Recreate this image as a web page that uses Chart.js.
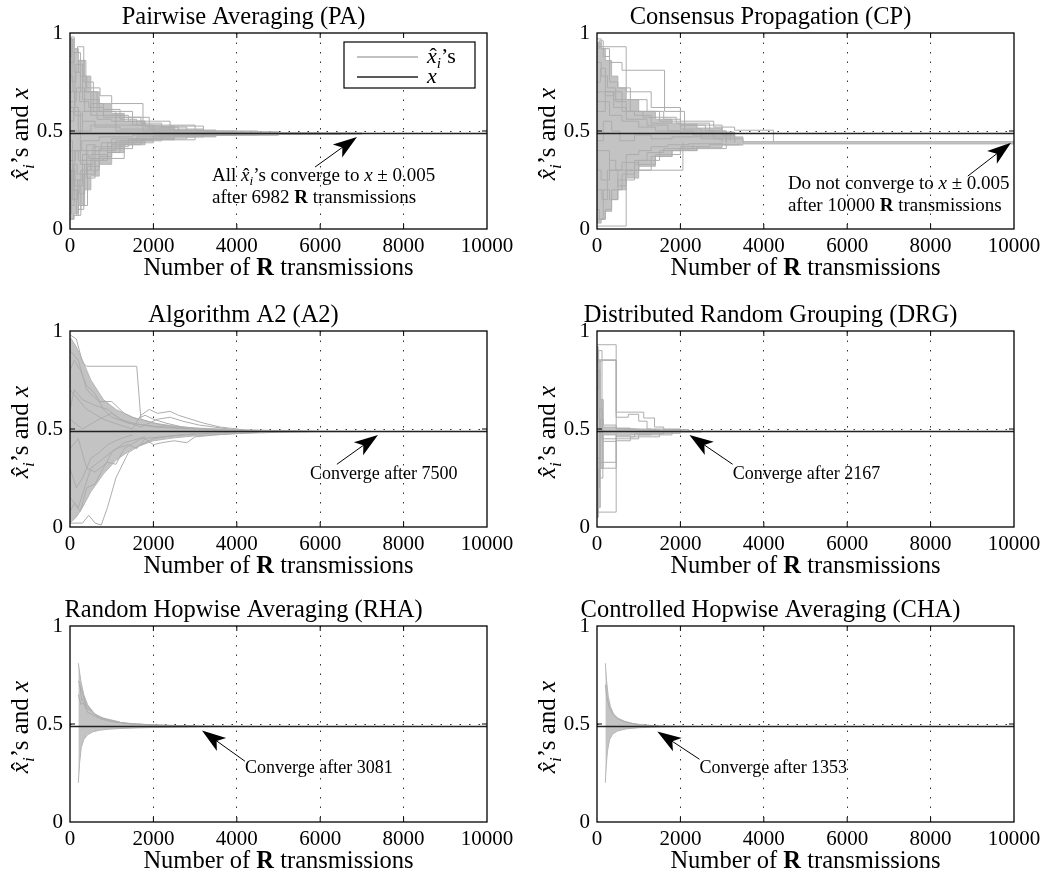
<!DOCTYPE html>
<html>
<head>
<meta charset="utf-8">
<script src="https://cdn.jsdelivr.net/npm/chart.js@4.4.1/dist/chart.umd.min.js"></script>
<style>
body { margin: 0; background: #fff; width: 1052px; height: 873px; overflow: hidden; position: relative; }
.p { position: absolute; width: 526px; height: 290px; }
</style>
</head>
<body>
<div class="p" style="left:0;top:0"><canvas id="pa"></canvas></div>
<div class="p" style="left:527px;top:0"><canvas id="cp"></canvas></div>
<div class="p" style="left:0;top:298px"><canvas id="a2"></canvas></div>
<div class="p" style="left:527px;top:298px"><canvas id="drg"></canvas></div>
<div class="p" style="left:0;top:593px"><canvas id="rha"></canvas></div>
<div class="p" style="left:527px;top:593px"><canvas id="cha"></canvas></div>
<script>
// axes
var xMax = 10000
var xStep = 2000
var yStep = 0.5
var xTrue = 0.487   // the black "x" line

// Pairwise Averaging: dense core (upper / lower edge) and single traces
var paUpper = [[0,0.97],[100,0.92],[200,0.86],[350,0.78],[500,0.7],[700,0.64],[1000,0.59],[1300,0.55],[1800,0.525],[2500,0.505],[3500,0.495],[5000,0.49],[7000,0.487],[10000,0.487]]
var paLower = [[0,0.05],[100,0.08],[200,0.12],[350,0.2],[500,0.27],[700,0.33],[1000,0.39],[1300,0.43],[1800,0.455],[2500,0.47],[3500,0.479],[5000,0.484],[7000,0.487],[10000,0.487]]
var paTraces = [
    [[0,0.97],[60,0.9],[180,0.93],[330,0.75],[560,0.6],[1100,0.53],[2000,0.5],[3500,0.49],[6000,0.487]],
    [[0,0.05],[80,0.07],[200,0.1],[260,0.3],[500,0.38],[900,0.44],[1600,0.47],[3000,0.482],[6500,0.487]],
    [[0,0.85],[100,0.9],[250,0.78],[400,0.72],[720,0.68],[1000,0.64],[1750,0.5],[4000,0.489]],
    [[0,0.3],[90,0.2],[200,0.1],[330,0.28],[600,0.4],[1000,0.46],[2200,0.48],[4500,0.487]],
    [[0,0.62],[120,0.8],[250,0.7],[500,0.58],[1300,0.57],[1900,0.51],[3200,0.49]],
    [[0,0.45],[60,0.15],[180,0.25],[300,0.35],[800,0.36],[1300,0.44],[2000,0.47],[3200,0.48],[5000,0.487]],
    [[0,0.78],[70,0.7],[230,0.65],[450,0.62],[800,0.58],[1400,0.55],[2400,0.525],[3200,0.495],[5000,0.488]],
    [[0,0.2],[150,0.07],[260,0.12],[420,0.32],[700,0.41],[1200,0.45],[2000,0.475],[3500,0.485]],
    [[0,0.92],[50,0.75],[140,0.84],[300,0.66],[700,0.6],[1500,0.53],[3000,0.5],[4500,0.489]],
    [[0,0.12],[100,0.25],[220,0.18],[350,0.33],[550,0.42],[1000,0.43],[1500,0.46],[2500,0.478],[4000,0.486]],
    [[0,0.7],[110,0.58],[300,0.55],[600,0.52],[1200,0.51],[2500,0.505],[3200,0.492]],
    [[0,0.35],[130,0.4],[280,0.45],[700,0.47],[1500,0.48],[4000,0.487]],
    [[0,0.55],[90,0.62],[200,0.5],[500,0.53],[1100,0.5],[2000,0.493],[5000,0.488]],
    [[0,0.08],[40,0.3],[120,0.22],[300,0.38],[450,0.36],[900,0.42],[1400,0.455],[3000,0.48]],
    [[0,0.88],[30,0.98],[100,0.8],[200,0.86],[380,0.7],[650,0.56],[1000,0.55],[1800,0.52],[2600,0.5]],
    [[0,0.25],[80,0.33],[170,0.28],[400,0.4],[750,0.44],[1400,0.46],[2800,0.478]],
    [[0,0.65],[150,0.72],[350,0.6],[800,0.57],[1700,0.54],[2200,0.52],[2800,0.5]],
    [[0,0.4],[200,0.35],[400,0.43],[600,0.4],[1100,0.45],[2000,0.472]],
    [[0,0.5],[300,0.6],[500,0.64],[800,0.61],[1200,0.56],[1600,0.53],[2200,0.515]],
    [[0,0.6],[250,0.33],[500,0.3],[700,0.37],[1000,0.41],[1500,0.45],[2200,0.468]],
    [[0,0.15],[100,0.4],[400,0.26],[600,0.35],[900,0.39],[1200,0.43],[1700,0.462]]
]

// Consensus Propagation
var cpUpper = [[0,0.95],[100,0.92],[200,0.86],[350,0.78],[500,0.72],[700,0.66],[1000,0.6],[1400,0.56],[1800,0.535],[2400,0.515],[3000,0.495],[3300,0.47],[3500,0.446],[10000,0.446]]
var cpLower = [[0,0.03],[100,0.05],[200,0.09],[350,0.15],[500,0.2],[700,0.26],[1000,0.32],[1400,0.37],[1800,0.4],[2400,0.415],[3000,0.428],[3500,0.434],[10000,0.434]]
var cpTraces = [
    [[0,0.97],[100,0.92],[300,0.85],[600,0.81],[1620,0.6],[2100,0.5],[2800,0.48],[3300,0.44]],
    [[0,0.015],[700,0.3],[2060,0.44]],
    [[0,0.93],[700,0.7],[1300,0.62],[2000,0.55],[2800,0.52],[3300,0.504],[4230,0.445]],
    [[0,0.05],[150,0.2],[300,0.15],[500,0.25],[900,0.33],[1400,0.38],[2000,0.42],[2700,0.43],[3400,0.437]],
    [[0,0.85],[100,0.78],[250,0.72],[450,0.65],[700,0.6],[1100,0.57],[1500,0.55],[2000,0.53],[2600,0.5],[3100,0.46],[3500,0.44]],
    [[0,0.6],[200,0.7],[400,0.62],[700,0.56],[1200,0.53],[1700,0.5],[2300,0.48],[2800,0.46],[3100,0.442]],
    [[0,0.3],[100,0.25],[300,0.35],[450,0.3],[700,0.38],[1000,0.4],[1300,0.42],[1700,0.43],[2200,0.435],[3000,0.44]],
    [[0,0.75],[80,0.82],[200,0.68],[400,0.7],[600,0.6],[900,0.58],[1300,0.54],[2000,0.51],[2500,0.49],[3200,0.45]],
    [[0,0.1],[60,0.05],[200,0.1],[350,0.2],[600,0.28],[900,0.35],[1200,0.39],[1600,0.41],[2300,0.43]],
    [[0,0.45],[150,0.55],[350,0.5],[550,0.45],[900,0.48],[1300,0.46],[1800,0.47],[2500,0.46],[3000,0.445]],
    [[0,0.92],[50,0.96],[150,0.88],[300,0.75],[500,0.72],[800,0.66],[1200,0.6],[1600,0.56],[2000,0.53],[3000,0.48],[3300,0.445]],
    [[0,0.2],[120,0.15],[250,0.3],[500,0.22],[700,0.3],[1000,0.35],[1500,0.4],[2000,0.41],[3100,0.437]],
    [[0,0.65],[300,0.58],[600,0.55],[1000,0.52],[1400,0.5],[2000,0.49],[2500,0.47],[3300,0.445]],
    [[0,0.7],[400,0.66],[800,0.6],[1100,0.6],[1500,0.57],[1900,0.54],[2700,0.5],[3100,0.45]],
    [[0,0.4],[300,0.3],[600,0.34],[1000,0.3],[1300,0.37],[1800,0.4],[2400,0.42]]
]

// Algorithm A2 (no steps)
var a2Upper = [[0,0.97],[150,0.92],[300,0.85],[500,0.75],[800,0.65],[1100,0.6],[1500,0.56],[2000,0.53],[2500,0.515],[3000,0.505],[4000,0.497],[5000,0.492],[6000,0.489],[7500,0.487],[10000,0.487]]
var a2Lower = [[0,0.02],[150,0.05],[300,0.1],[500,0.18],[800,0.27],[1100,0.34],[1500,0.4],[2000,0.44],[2500,0.455],[3000,0.465],[4000,0.477],[5000,0.483],[6000,0.486],[7500,0.487],[10000,0.487]]
var a2Traces = [
    [[0,0.98],[150,0.96],[300,0.84],[400,0.82],[1600,0.82],[1700,0.55],[2200,0.52],[3000,0.5],[4500,0.49]],
    [[0,0.02],[300,0.02],[450,0.06],[600,0.02],[750,0.01],[900,0.1],[1100,0.25],[1400,0.38],[1700,0.42],[2000,0.45],[2600,0.47],[4000,0.485]],
    [[0,0.9],[200,0.85],[400,0.7],[700,0.64],[1000,0.64],[1300,0.58],[1600,0.55],[1800,0.57],[2000,0.55],[2300,0.53],[2700,0.51],[3500,0.495]],
    [[0,0.7],[400,0.6],[800,0.55],[1200,0.52],[1500,0.5],[1700,0.57],[1900,0.6],[2100,0.58],[2400,0.59],[2600,0.57],[2900,0.55],[3200,0.53],[3600,0.51],[4200,0.495]],
    [[0,0.15],[200,0.1],[500,0.3],[800,0.35],[1100,0.4],[1400,0.42],[1600,0.4],[1800,0.45],[2000,0.42],[2200,0.43],[2500,0.44],[2800,0.43],[3000,0.46],[3500,0.47],[4500,0.483]],
    [[0,0.6],[100,0.7],[300,0.65],[600,0.62],[900,0.6],[1200,0.55],[1500,0.53],[2000,0.51],[3000,0.5]],
    [[0,0.3],[150,0.2],[300,0.25],[500,0.35],[700,0.38],[900,0.42],[1200,0.45],[1500,0.47]],
    [[0,0.08],[100,0.12],[250,0.08],[400,0.2],[600,0.22],[800,0.3],[1000,0.38],[1300,0.43],[1800,0.46]],
    [[0,0.8],[100,0.85],[250,0.8],[400,0.72],[600,0.68],[800,0.6],[1000,0.56],[1400,0.53],[2000,0.515],[2800,0.5]],
    [[0,0.4],[200,0.45],[400,0.3],[600,0.28],[900,0.33],[1100,0.32],[1300,0.4],[1700,0.45],[2200,0.46],[3000,0.475]],
    [[0,0.55],[300,0.5],[700,0.55],[1000,0.58],[1300,0.54],[1700,0.51],[2100,0.55],[2400,0.56],[2700,0.54],[3100,0.52],[3800,0.5]]
]

// Distributed Random Grouping
var drgUpper = [[0,0.92],[30,0.85],[80,0.65],[150,0.51],[460,0.505],[800,0.5],[1300,0.495],[2000,0.49],[2500,0.487],[10000,0.487]]
var drgLower = [[0,0.05],[30,0.1],[80,0.3],[150,0.47],[460,0.465],[800,0.47],[1300,0.478],[2000,0.484],[2500,0.487],[10000,0.487]]
var drgTraces = [
    [[0,0.93],[460,0.586],[1120,0.556],[1380,0.51],[1600,0.497],[2200,0.487]],
    [[0,0.853],[460,0.56],[750,0.575],[1000,0.54],[1200,0.5],[2000,0.488]],
    [[0,0.844],[100,0.85],[460,0.5],[1000,0.495],[1500,0.49]],
    [[0,0.076],[460,0.45],[1000,0.47],[1800,0.485]],
    [[0,0.33],[460,0.46],[900,0.475],[1600,0.485]],
    [[0,0.35],[60,0.3],[460,0.44],[800,0.46],[1500,0.48]],
    [[0,0.05],[30,0.3],[80,0.55],[150,0.52],[460,0.5],[900,0.495]],
    [[0,0.7],[40,0.9],[120,0.45],[460,0.48]],
    [[0,0.2],[60,0.6],[130,0.437],[460,0.47]],
    [[0,0.55],[20,0.8],[70,0.25],[140,0.5]]
]

// Random Hopwise Averaging (no steps)
var rhaUpper = [[200,0.81],[260,0.72],[330,0.65],[420,0.6],[550,0.56],[700,0.535],[900,0.52],[1200,0.508],[1600,0.5],[2000,0.496],[2600,0.492],[3200,0.49],[4000,0.488],[4700,0.487]]
var rhaLower = [[200,0.2],[230,0.3],[270,0.38],[330,0.42],[420,0.445],[550,0.46],[700,0.468],[900,0.473],[1200,0.477],[1600,0.48],[2000,0.482],[2600,0.484],[3200,0.486],[4700,0.487]]
var rhaTraces = [
    [[200,0.72],[240,0.7],[280,0.62],[330,0.63],[400,0.58],[500,0.57],[650,0.54],[850,0.525],[1100,0.51],[1500,0.5],[2200,0.494],[3000,0.49]],
    [[200,0.65],[260,0.6],[320,0.61],[420,0.56],[560,0.545],[750,0.525],[1000,0.512],[1400,0.502],[2000,0.495]],
    [[220,0.7],[300,0.66],[380,0.6],[480,0.58],[600,0.55],[800,0.53],[1200,0.51]]
]

// Controlled Hopwise Averaging (no steps)
var chaUpper = [[200,0.81],[230,0.72],[270,0.64],[320,0.59],[400,0.55],[500,0.53],[650,0.515],[850,0.503],[1100,0.495],[1500,0.49],[2200,0.487]]
var chaLower = [[200,0.2],[220,0.28],[250,0.36],[300,0.42],[380,0.45],[500,0.465],[700,0.475],[1000,0.481],[1500,0.485],[2200,0.487]]
var chaTraces = [
    [[200,0.7],[240,0.63],[300,0.58],[380,0.55],[500,0.525],[700,0.508],[1000,0.497],[1500,0.49]]
]

var SERIF = '"Liberation Serif", "Times New Roman", serif'
var GREY = '#adadad'

var xhat = [{t: 'x', it: 1, hat: 1}, {t: 'i', it: 1, sub: 1}]

var panels = [
    {id: 'pa', title: 'Pairwise Averaging (PA)', traces: paTraces, upper: paUpper, lower: paLower, stepped: true, legend: true,
        note: {tip: [6882, 0.47], tail: [5875, 0.316], at: [3405, 0.245], size: 19,
            lines: [[{t: 'All '}].concat(xhat, [{t: '’s converge to '}, {t: 'x', it: 1}, {t: ' ± 0.005'}]),
                [{t: 'after 6982 '}, {t: 'R', b: 1}, {t: ' transmissions'}]]}},
    {id: 'cp', title: 'Consensus Propagation (CP)', traces: cpTraces, upper: cpUpper, lower: cpLower, stepped: true,
        note: {tip: [9928, 0.44], tail: [8892, 0.27], at: [4578, 0.204], size: 19,
            lines: [[{t: 'Do not converge to '}, {t: 'x', it: 1}, {t: ' ± 0.005'}],
                [{t: 'after 10000 '}, {t: 'R', b: 1}, {t: ' transmissions'}]]}},
    {id: 'a2', title: 'Algorithm A2 (A2)', traces: a2Traces, upper: a2Upper, lower: a2Lower, stepped: false,
        note: {tip: [7386, 0.47], tail: [6400, 0.32], at: [5755, 0.246], size: 18, lines: [[{t: 'Converge after 7500'}]]}},
    {id: 'drg', title: 'Distributed Random Grouping (DRG)', traces: drgTraces, upper: drgUpper, lower: drgLower, stepped: true,
        note: {tip: [2217, 0.47], tail: [3253, 0.32], at: [3253, 0.244], size: 18, lines: [[{t: 'Converge after 2167'}]]}},
    {id: 'rha', title: 'Random Hopwise Averaging (RHA)', traces: rhaTraces, upper: rhaUpper, lower: rhaLower, stepped: false,
        note: {tip: [3165, 0.467], tail: [4196, 0.31], at: [4197, 0.249], size: 18, lines: [[{t: 'Converge after 3081'}]]}},
    {id: 'cha', title: 'Controlled Hopwise Averaging (CHA)', traces: chaTraces, upper: chaUpper, lower: chaLower, stepped: false,
        note: {tip: [1446, 0.462], tail: [2458, 0.32], at: [2458, 0.249], size: 18, lines: [[{t: 'Converge after 1353'}]]}}
]

function segFont(s, size) {
    var sz = s.sub ? size * 0.7 : size
    return (s.it ? 'italic ' : '') + (s.b ? 'bold ' : '') + sz + 'px ' + SERIF
}

function richWidth(ctx, segs, size) {
    var w = 0
    segs.forEach(function (s) {
        ctx.font = segFont(s, size)
        w += ctx.measureText(s.t).width
    })
    return w
}

function drawRich(ctx, segs, x, y, size) {
    ctx.textAlign = 'left'
    ctx.textBaseline = 'alphabetic'
    segs.forEach(function (s) {
        ctx.font = segFont(s, size)
        var w = ctx.measureText(s.t).width
        ctx.fillText(s.t, x, y + (s.sub ? size * 0.22 : 0))
        if (s.hat) {
            ctx.font = size + 'px ' + SERIF
            ctx.textAlign = 'center'
            ctx.fillText('ˆ', x + w * 0.62, y + size * 0.02)
            ctx.textAlign = 'left'
        }
        x += w
    })
}

function drawArrow(ctx, x0, y0, x1, y1) {
    var a = Math.atan2(y1 - y0, x1 - x0)
    var L = 24, W = 8, c = Math.cos(a), s = Math.sin(a)
    ctx.strokeStyle = '#000'
    ctx.fillStyle = '#000'
    ctx.lineWidth = 1
    ctx.beginPath()
    ctx.moveTo(x0, y0)
    ctx.lineTo(x1 - c * L * 0.7, y1 - s * L * 0.7)
    ctx.stroke()
    ctx.beginPath()
    ctx.moveTo(x1, y1)
    ctx.lineTo(x1 - c * L + s * W, y1 - s * L - c * W)
    ctx.lineTo(x1 - c * L * 0.75, y1 - s * L * 0.75)
    ctx.lineTo(x1 - c * L - s * W, y1 - s * L + c * W)
    ctx.closePath()
    ctx.fill()
}

// box, inward ticks, axis labels, note and legend
var decorPlugin = {
    id: 'decor',
    afterDraw: function (chart) {
        var ctx = chart.ctx, a = chart.chartArea
        var sx = chart.scales.x, sy = chart.scales.y
        var p = chart.options.panel
        ctx.save()

        ctx.strokeStyle = '#000'
        ctx.lineWidth = 1.3
        ctx.strokeRect(a.left, a.top, a.right - a.left, a.bottom - a.top)
        ctx.lineWidth = 1
        ctx.beginPath()
        for (var v = xStep; v < xMax; v += xStep) {
            var px = sx.getPixelForValue(v)
            ctx.moveTo(px, a.bottom); ctx.lineTo(px, a.bottom - 5)
            ctx.moveTo(px, a.top); ctx.lineTo(px, a.top + 5)
        }
        var py = sy.getPixelForValue(yStep)
        ctx.moveTo(a.left, py); ctx.lineTo(a.left + 5, py)
        ctx.moveTo(a.right, py); ctx.lineTo(a.right - 5, py)
        ctx.stroke()

        ctx.fillStyle = '#000'
        // x axis title
        var xl = [{t: 'Number of '}, {t: 'R', b: 1}, {t: ' transmissions'}]
        var w = richWidth(ctx, xl, 24.5)
        drawRich(ctx, xl, (a.left + a.right) / 2 - w / 2, a.bottom + 46, 24.5)
        // y axis title
        var yl = xhat.concat([{t: '’s and '}, {t: 'x', it: 1}])
        w = richWidth(ctx, yl, 25)
        ctx.save()
        ctx.translate(28, (a.top + a.bottom) / 2 + 3)
        ctx.rotate(-Math.PI / 2)
        drawRich(ctx, yl, -w / 2, 0, 25)
        ctx.restore()

        // note with arrow
        var n = p.note
        drawArrow(ctx, sx.getPixelForValue(n.tail[0]), sy.getPixelForValue(n.tail[1]),
            sx.getPixelForValue(n.tip[0]), sy.getPixelForValue(n.tip[1]))
        ctx.fillStyle = '#000'
        n.lines.forEach(function (line, i) {
            drawRich(ctx, line, sx.getPixelForValue(n.at[0]), sy.getPixelForValue(n.at[1]) + i * 22, n.size)
        })

        if (p.legend) {
            var lx = a.right - 143, ly = a.top + 9
            ctx.fillStyle = '#fff'
            ctx.fillRect(lx, ly, 131, 46)
            ctx.strokeStyle = '#000'
            ctx.lineWidth = 1.2
            ctx.strokeRect(lx, ly, 131, 46)
            ctx.lineWidth = 1.3
            ctx.strokeStyle = GREY
            ctx.beginPath(); ctx.moveTo(lx + 13, ly + 15); ctx.lineTo(lx + 74, ly + 15); ctx.stroke()
            ctx.strokeStyle = '#222'
            ctx.beginPath(); ctx.moveTo(lx + 13, ly + 35); ctx.lineTo(lx + 74, ly + 35); ctx.stroke()
            ctx.fillStyle = '#000'
            drawRich(ctx, xhat.concat([{t: '’s'}]), lx + 83, ly + 21, 22)
            drawRich(ctx, [{t: 'x', it: 1}], lx + 83, ly + 41, 22)
        }
        ctx.restore()
    }
}

function buildDatasets(p) {
    var ds = []
    ds.push({data: [[0, xTrue], [xMax, xTrue]], borderColor: '#222', borderWidth: 1.4})
    p.traces.forEach(function (t) {
        ds.push({data: t, borderColor: GREY, borderWidth: 1, stepped: p.stepped})
    })
    ds.push({data: p.upper, borderColor: '#b5b5b5', borderWidth: 1, stepped: p.stepped})
    ds.push({data: p.lower, borderColor: '#b5b5b5', borderWidth: 1, stepped: p.stepped, fill: '-1', backgroundColor: '#c3c3c3'})
    return ds
}

function gridColor(max) {
    return function (c) {
        var v = c.tick ? c.tick.value : 0
        return (v > 0 && v < max) ? '#333' : 'rgba(0,0,0,0)'
    }
}

panels.forEach(function (p) {
    new Chart(document.getElementById(p.id), {
        type: 'line',
        data: {datasets: buildDatasets(p)},
        options: {
            panel: p,
            animation: false,
            responsive: true,
            maintainAspectRatio: false,
            events: [],
            layout: {padding: {top: 0, right: 39, left: 0, bottom: 0}},
            elements: {point: {radius: 0}, line: {tension: 0}},
            plugins: {
                legend: {display: false},
                tooltip: {enabled: false},
                title: {
                    display: true,
                    text: p.title,
                    color: '#000',
                    font: {family: SERIF, size: 24.5, weight: 'normal'},
                    padding: {top: 3, bottom: 0.6}
                }
            },
            scales: {
                x: {
                    type: 'linear', min: 0, max: xMax, z: 1,
                    afterFit: function (s) { s.height = 61 },
                    ticks: {stepSize: xStep, color: '#000', font: {family: SERIF, size: 21}, padding: 5,
                        maxRotation: 0, autoSkip: false, callback: function (v) { return String(v) }},
                    grid: {drawTicks: false, color: gridColor(xMax), lineWidth: 1},
                    border: {display: false, dash: [1.5, 8]}
                },
                y: {
                    min: 0, max: 1, z: 1,
                    afterFit: function (s) { s.width = 70 },
                    ticks: {stepSize: yStep, color: '#000', font: {family: SERIF, size: 21}, padding: 7,
                        callback: function (v) { return String(v) }},
                    grid: {drawTicks: false, color: gridColor(1), lineWidth: 1},
                    border: {display: false, dash: [1.5, 8]}
                }
            }
        },
        plugins: [decorPlugin]
    })
})
</script>
</body>
</html>
